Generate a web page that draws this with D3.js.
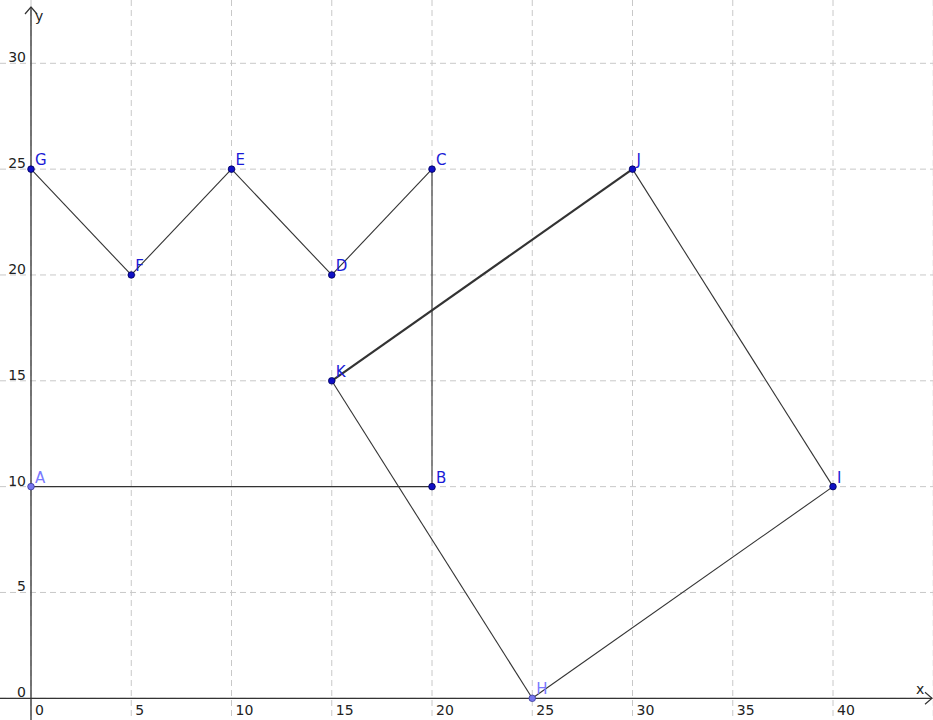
<!DOCTYPE html>
<html>
<head>
<meta charset="utf-8">
<script src="https://cdn.jsdelivr.net/npm/d3@7"></script>
<style>
  html, body { margin: 0; padding: 0; background: #fff; }
  svg { display: block; font-family: "DejaVu Sans", sans-serif; }
</style>
</head>
<body>
<div id="chart"></div>
<script>
// Points (name, x, y, free?)
const pointNames = ['A', 'B', 'C', 'D', 'E', 'F', 'G', 'H', 'I', 'J', 'K'];
const pointX = [0, 20, 20, 15, 10, 5, 0, 25, 40, 30, 15];
const pointY = [10, 10, 25, 20, 25, 20, 25, 0, 10, 25, 15];
const freePoints = ['A', 'H'];

// Segments between named points
const segmentsFrom = ['G', 'F', 'E', 'D', 'C', 'B', 'J', 'I', 'H', 'K'];
const segmentsTo = ['F', 'E', 'D', 'C', 'B', 'A', 'I', 'H', 'K', 'J'];
const thickSegments = ['K-J'];

// Ticks
const xTicks = [0, 5, 10, 15, 20, 25, 30, 35, 40];
const yTicks = [0, 5, 10, 15, 20, 25, 30];
const xGrid = [0, 5, 10, 15, 20, 25, 30, 35, 40, 45];
const yGrid = [0, 5, 10, 15, 20, 25, 30];

const width = 933, height = 720;

const x = d3.scaleLinear().domain([0, 40]).range([31, 833]);
const y = d3.scaleLinear().domain([0, 30]).range([698.3, 63.3]);

const svg = d3.select('#chart').append('svg')
  .attr('width', width)
  .attr('height', height)
  .attr('viewBox', `0 0 ${width} ${height}`);

// Grid
const grid = svg.append('g').attr('class', 'grid');
grid.selectAll('line.vx')
  .data(xGrid)
  .join('line')
  .attr('x1', d => x(d)).attr('x2', d => x(d))
  .attr('y1', 0).attr('y2', height)
  .attr('stroke', '#c8c8c8')
  .attr('stroke-width', 1)
  .attr('stroke-dasharray', '6,4');
grid.selectAll('line.hy')
  .data(yGrid)
  .join('line')
  .attr('x1', 0).attr('x2', width)
  .attr('y1', d => y(d)).attr('y2', d => y(d))
  .attr('stroke', '#c8c8c8')
  .attr('stroke-width', 1)
  .attr('stroke-dasharray', '6,4');

// Axes
const axisColor = '#333';
const ax = svg.append('g').attr('class', 'axes');
ax.append('line')
  .attr('x1', 0).attr('x2', width - 1)
  .attr('y1', y(0)).attr('y2', y(0))
  .attr('stroke', axisColor).attr('stroke-width', 1.3);
ax.append('line')
  .attr('x1', x(0)).attr('x2', x(0))
  .attr('y1', 7).attr('y2', height)
  .attr('stroke', axisColor).attr('stroke-width', 1.3);
// arrow heads
ax.append('path')
  .attr('d', `M${width - 8},${y(0) - 6} L${width - 1},${y(0)} L${width - 8},${y(0) + 6}`)
  .attr('fill', 'none').attr('stroke', axisColor).attr('stroke-width', 1.2);
ax.append('path')
  .attr('d', `M${x(0) - 6},14 L${x(0)},7 L${x(0) + 6},14`)
  .attr('fill', 'none').attr('stroke', axisColor).attr('stroke-width', 1.2);

// Tick labels
ax.selectAll('text.xt')
  .data(xTicks)
  .join('text')
  .attr('x', d => x(d) + 4)
  .attr('y', y(0) + 17)
  .attr('fill', '#222')
  .style('font-size', '14px')
  .text(d => d);
ax.selectAll('text.yt')
  .data(yTicks)
  .join('text')
  .attr('x', x(0) - 5)
  .attr('y', d => y(d) - 1)
  .attr('text-anchor', 'end')
  .attr('fill', '#222')
  .style('font-size', '14px')
  .text(d => d);
ax.append('text')
  .attr('x', 916).attr('y', 694)
  .attr('fill', '#222').style('font-size', '14px')
  .text('x');
ax.append('text')
  .attr('x', 35).attr('y', 21)
  .attr('fill', '#222').style('font-size', '14px')
  .text('y');

// Lookup helpers
const pos = {};
pointNames.forEach((n, i) => { pos[n] = { x: pointX[i], y: pointY[i] }; });

// Segments
const segs = segmentsFrom.map((f, i) => ({ from: f, to: segmentsTo[i] }));
svg.append('g').attr('class', 'segments')
  .selectAll('line')
  .data(segs)
  .join('line')
  .attr('x1', d => x(pos[d.from].x)).attr('y1', d => y(pos[d.from].y))
  .attr('x2', d => x(pos[d.to].x)).attr('y2', d => y(pos[d.to].y))
  .attr('stroke', '#333')
  .attr('stroke-width', d => thickSegments.includes(`${d.from}-${d.to}`) ? 2.2 : 1.1);

// Points
const pts = pointNames.map((n, i) => ({ name: n, x: pointX[i], y: pointY[i], free: freePoints.includes(n) }));
const pg = svg.append('g').attr('class', 'points');
pg.selectAll('circle')
  .data(pts)
  .join('circle')
  .attr('cx', d => x(d.x)).attr('cy', d => y(d.y))
  .attr('r', 3.3)
  .attr('fill', d => d.free ? '#7676ee' : '#1010c4')
  .attr('stroke', d => d.free ? '#3a3a99' : '#000055')
  .attr('stroke-width', 0.8);
pg.selectAll('text')
  .data(pts)
  .join('text')
  .attr('x', d => x(d.x) + 4)
  .attr('y', d => y(d.y) - 4)
  .attr('fill', d => d.free ? '#7a7aff' : '#1a1ad6')
  .style('font-size', '15px')
  .text(d => d.name);
</script>
</body>
</html>
